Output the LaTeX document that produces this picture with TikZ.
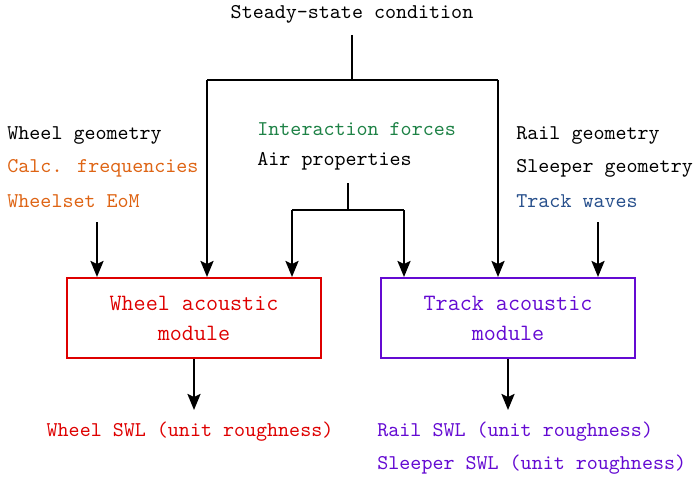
\documentclass[tikz,border=0pt]{standalone}
\usetikzlibrary{arrows.meta}
\definecolor{wred}{RGB}{222,0,0}
\definecolor{tpurple}{RGB}{100,10,210}
\definecolor{corange}{RGB}{222,100,20}
\definecolor{cgreen}{RGB}{30,130,70}
\definecolor{cblue}{RGB}{40,80,140}
\begin{document}
\begin{tikzpicture}[x=0.5pt,y=-0.5pt,
  every node/.style={font=\ttfamily\fontsize{10.5}{15}\selectfont, inner sep=0pt},
  lbl/.style={anchor=west},
  conn/.style={line width=1.2pt},
  arr/.style={line width=1.2pt,-{Stealth[length=8pt,width=6.5pt,inset=1.5pt]}},
  module/.style={draw, line width=1pt, minimum width=127pt, minimum height=40pt, align=center,
    font=\ttfamily\fontsize{11.7}{15}\selectfont}
]
\useasboundingbox (0,0) rectangle (694,476);
% top
\node (ss) at (352,14) {Steady-state condition};
\coordinate (s1) at (352,35);
\coordinate (s2) at (352,80);
\coordinate (jl) at (207,80);
\coordinate (jr) at (498,80);
% left inputs
\node[lbl] (wg) at (7,135) {Wheel geometry};
\node[lbl,text=corange] (cf) at (7,168) {Calc. frequencies};
\node[lbl,text=corange] (we) at (7,201) {Wheelset EoM};
\coordinate (la) at (97,222);
% middle inputs
\node[lbl,text=cgreen] (if) at (257,129) {Interaction forces};
\node[lbl] (ap) at (257,161) {Air properties};
\coordinate (m1) at (348,183);
\coordinate (m2) at (348,210);
\coordinate (ml) at (292,210);
\coordinate (mr) at (404,210);
% right inputs
\node[lbl] (rg) at (516,135) {Rail geometry};
\node[lbl] (sg) at (516,168) {Sleeper geometry};
\node[lbl,text=cblue] (tw) at (516,201) {Track waves};
\coordinate (ra) at (598,222);
% modules
\node[module,draw=wred,text=wred] (wm) at (194,318) {Wheel acoustic\\module};
\node[module,draw=tpurple,text=tpurple] (tm) at (508,318) {Track acoustic\\module};
% outputs
\node[text=wred] (wswl) at (190,432) {Wheel SWL (unit roughness)};
\node[lbl,text=tpurple] (rswl) at (377,432) {Rail SWL (unit roughness)};
\node[lbl,text=tpurple] (sswl) at (377,465) {Sleeper SWL (unit roughness)};
\coordinate (wo) at (194,410);
\coordinate (to) at (508,410);
% connectors
\draw[conn] (s1) -- (s2);
\draw[conn] (jl) -- (jr);
\draw[arr] (jl) -- (wm.north -| jl);
\draw[arr] (jr) -- (tm.north -| jr);
\draw[arr] (la) -- (wm.north -| la);
\draw[arr] (ra) -- (tm.north -| ra);
\draw[conn] (m1) -- (m2);
\draw[conn] (ml) -- (mr);
\draw[arr] (ml) -- (wm.north -| ml);
\draw[arr] (mr) -- (tm.north -| mr);
\draw[arr] (wm.south) -- (wo);
\draw[arr] (tm.south) -- (to);
\end{tikzpicture}
\end{document}
